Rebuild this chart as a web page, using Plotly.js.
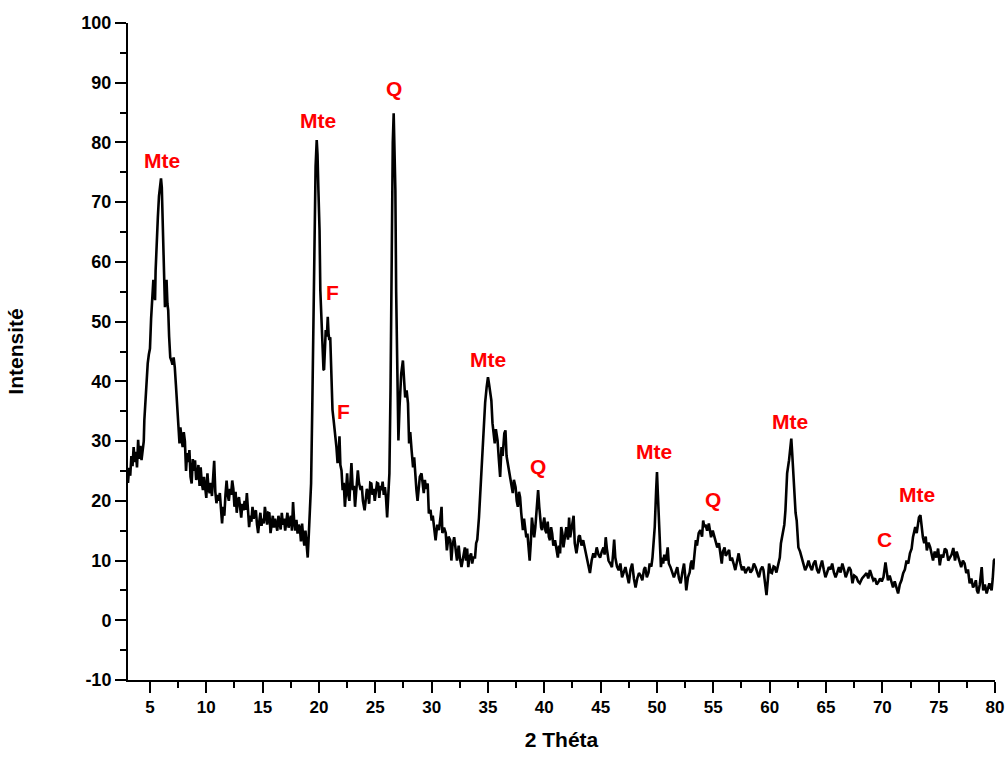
<!DOCTYPE html>
<html>
<head>
<meta charset="utf-8">
<script src="https://cdn.plot.ly/plotly-3.0.1.min.js"></script>
<style>html,body{margin:0;padding:0;background:#fff;}#chart{width:1006px;height:758px;}</style>
</head>
<body>
<div id="chart"></div>
<script>
// 2θ (degrees) and intensity values
const twoTheta = [
3.05,3.15,3.25,3.35,3.45,3.55,3.65,3.75,3.85,3.95,4.05,4.15,4.25,4.35,4.45,4.5,4.6,4.7,4.8,4.9,
5.0,5.1,5.2,5.3,5.4,5.45,5.5,5.6,5.7,5.8,5.9,5.98,6.05,6.12,6.2,6.27,6.33,6.4,6.47,6.55,
6.62,6.7,6.8,6.9,7.0,7.1,7.2,7.3,7.38,7.45,7.55,7.62,7.7,7.8,7.9,8.0,8.1,8.2,8.3,8.4,
8.5,8.6,8.7,8.8,8.9,9.0,9.1,9.2,9.3,9.4,9.5,9.6,9.7,9.8,9.9,10.0,10.1,10.2,10.3,10.4,
10.5,10.6,10.7,10.8,10.9,11.0,11.1,11.2,11.3,11.4,11.5,11.6,11.7,11.8,11.9,12.0,12.1,12.2,12.3,12.4,
12.5,12.6,12.7,12.8,12.9,13.0,13.1,13.2,13.3,13.4,13.5,13.6,13.7,13.8,13.9,14.0,14.1,14.2,14.3,14.4,
14.5,14.6,14.7,14.8,14.9,15.0,15.1,15.2,15.3,15.4,15.5,15.6,15.7,15.8,15.9,16.0,16.1,16.2,16.3,16.4,
16.5,16.6,16.7,16.8,16.9,17.0,17.1,17.2,17.3,17.4,17.5,17.6,17.7,17.8,17.9,18.0,18.1,18.2,18.3,18.4,
18.5,18.6,18.7,18.8,18.9,19.0,19.1,19.2,19.3,19.4,19.5,19.6,19.7,19.8,19.87,19.95,20.05,20.12,20.22,20.3,
20.4,20.45,20.52,20.6,20.7,20.78,20.85,20.92,21.0,21.1,21.2,21.3,21.45,21.55,21.65,21.75,21.82,21.9,22.0,22.1,
22.2,22.3,22.4,22.5,22.6,22.7,22.8,22.88,23.0,23.1,23.2,23.3,23.45,23.55,23.7,23.8,23.9,24.05,24.15,24.25,
24.35,24.45,24.55,24.65,24.75,24.85,24.95,25.05,25.15,25.25,25.35,25.45,25.55,25.65,25.75,25.85,25.95,26.05,26.15,26.25,
26.35,26.45,26.55,26.63,26.7,26.78,26.85,26.92,27.0,27.05,27.15,27.3,27.45,27.55,27.65,27.78,27.9,28.0,28.1,28.22,
28.35,28.45,28.55,28.65,28.75,28.85,28.95,29.1,29.2,29.3,29.4,29.5,29.65,29.75,29.9,30.0,30.1,30.25,30.35,30.5,
30.65,30.8,30.88,30.95,31.1,31.25,31.35,31.5,31.65,31.75,31.85,32.0,32.1,32.25,32.4,32.5,32.65,32.8,32.95,33.05,
33.15,33.25,33.35,33.5,33.6,33.7,33.85,33.95,34.05,34.2,34.3,34.42,34.52,34.65,34.75,34.88,35.0,35.1,35.18,35.3,
35.4,35.5,35.6,35.7,35.85,35.95,36.08,36.2,36.3,36.45,36.55,36.65,36.75,36.9,37.05,37.2,37.3,37.45,37.55,37.65,
37.75,37.85,37.95,38.1,38.2,38.3,38.4,38.5,38.6,38.7,38.8,38.9,39.0,39.1,39.2,39.3,39.38,39.45,39.55,39.62,
39.72,39.8,39.9,40.0,40.1,40.2,40.3,40.4,40.5,40.6,40.7,40.8,40.95,41.05,41.2,41.3,41.4,41.5,41.6,41.7,
41.8,41.95,42.1,42.2,42.3,42.4,42.5,42.6,42.7,42.85,42.95,43.05,43.15,43.3,43.45,43.6,43.75,43.9,44.05,44.2,
44.35,44.5,44.65,44.8,44.95,45.1,45.25,45.35,45.45,45.55,45.7,45.85,46.0,46.1,46.2,46.3,46.45,46.6,46.75,46.9,
47.05,47.2,47.35,47.5,47.65,47.8,47.95,48.1,48.25,48.4,48.55,48.7,48.85,48.95,49.1,49.25,49.35,49.5,49.6,49.8,
49.93,50.0,50.08,50.15,50.25,50.35,50.45,50.55,50.65,50.8,50.95,51.05,51.2,51.35,51.5,51.65,51.8,51.95,52.1,52.25,
52.4,52.5,52.6,52.75,52.9,53.0,53.1,53.2,53.3,53.45,53.55,53.7,53.85,54.0,54.1,54.2,54.3,54.45,54.6,54.7,
54.8,54.95,55.1,55.2,55.35,55.5,55.6,55.75,55.85,56.0,56.1,56.25,56.4,56.5,56.65,56.8,56.95,57.1,57.25,57.4,
57.55,57.7,57.85,58.0,58.15,58.3,58.45,58.6,58.75,58.9,59.05,59.2,59.35,59.45,59.6,59.72,59.85,59.95,60.1,60.2,
60.35,60.45,60.6,60.75,60.9,61.0,61.15,61.3,61.4,61.55,61.72,61.82,61.92,62.0,62.07,62.18,62.3,62.4,62.55,62.7,
62.85,63.0,63.15,63.3,63.45,63.6,63.75,63.9,64.05,64.2,64.35,64.5,64.65,64.8,64.95,65.1,65.25,65.4,65.55,65.7,
65.85,66.0,66.15,66.3,66.45,66.6,66.75,66.9,67.05,67.2,67.35,67.5,67.7,67.85,68.0,68.2,68.4,68.6,68.75,68.9,
69.05,69.2,69.35,69.5,69.65,69.8,69.95,70.1,70.28,70.4,70.5,70.65,70.8,70.95,71.1,71.25,71.4,71.55,71.7,71.85,
72.0,72.15,72.3,72.45,72.6,72.72,72.85,72.92,73.05,73.15,73.25,73.38,73.5,73.6,73.72,73.85,73.95,74.1,74.25,74.4,
74.5,74.65,74.8,74.95,75.1,75.25,75.4,75.55,75.7,75.85,76.0,76.15,76.3,76.45,76.6,76.75,76.9,77.0,77.15,77.3,
77.45,77.6,77.75,77.9,78.05,78.2,78.3,78.4,78.5,78.65,78.82,78.95,79.1,79.26,79.4,79.5,79.6,79.7,79.8,79.9,
80.0
];
const intensity = [
23.0,25.5,24.2,27.5,25.8,29.0,26.5,28.2,25.6,30.2,27.0,29.2,26.8,28.6,30.0,33.5,36.5,40.5,43.0,44.5,
45.5,50.5,53.5,57.0,55.0,53.6,58.5,64.0,67.5,71.0,73.0,74.0,72.5,67.0,60.0,57.4,52.4,56.0,57.0,53.0,
51.9,47.5,44.0,43.5,42.8,44.0,42.4,39.5,37.3,35.5,32.5,29.6,32.3,31.0,29.0,31.5,30.0,25.0,28.0,26.5,
28.5,24.0,22.9,27.0,25.0,26.8,23.5,24.0,26.0,22.5,25.6,23.0,21.8,24.0,22.5,20.5,24.6,22.0,21.3,23.0,
20.8,25.0,26.7,21.5,19.6,21.0,20.0,21.3,18.5,16.2,19.0,17.5,21.0,23.4,21.0,20.0,22.0,21.0,23.4,22.0,
19.0,21.5,18.0,20.0,20.6,19.0,17.2,19.5,18.4,20.0,18.5,21.3,19.0,15.6,17.5,16.5,19.0,17.0,18.0,18.4,
16.0,14.6,16.5,18.0,15.8,17.0,16.2,19.0,17.5,16.0,18.0,17.9,14.6,16.5,17.5,15.5,17.0,16.0,15.0,17.5,
16.2,15.2,18.0,16.0,17.0,15.0,16.5,18.0,15.5,16.8,17.5,15.0,19.8,16.5,15.0,16.8,14.5,16.0,15.5,13.2,
16.2,14.0,12.5,15.0,11.7,10.5,14.5,19.0,22.9,35.0,48.0,66.5,76.0,80.4,78.0,72.0,65.3,55.2,49.7,45.2,
42.0,41.9,44.5,48.6,47.5,50.8,48.0,46.9,47.4,42.0,35.2,33.5,31.3,29.0,26.3,28.0,30.8,26.0,25.1,21.8,
23.0,19.0,21.5,24.6,21.0,20.0,23.5,26.3,21.8,22.5,19.0,21.5,25.1,23.0,21.8,22.5,20.0,18.4,20.5,22.0,
21.3,19.5,23.0,22.9,21.0,22.0,20.0,21.5,23.0,22.9,20.5,22.5,21.8,23.2,21.0,22.3,20.5,17.2,21.0,24.6,
38.5,66.5,80.0,84.9,80.0,72.0,55.0,45.0,33.0,30.1,35.7,41.3,43.5,40.0,37.3,38.5,36.3,29.6,31.5,28.5,
25.6,27.3,24.0,21.8,20.0,22.5,24.0,24.6,22.5,21.3,23.5,22.0,22.9,17.9,18.5,16.7,17.5,15.1,13.4,16.0,
15.1,17.5,19.0,14.6,15.5,14.6,11.7,14.0,13.4,10.0,12.5,13.9,12.0,10.0,12.5,10.5,8.9,11.0,12.2,10.0,
12.0,8.9,10.5,11.2,9.5,10.5,10.5,12.9,13.5,17.2,21.0,26.3,30.0,34.0,36.5,39.0,40.7,39.5,38.5,36.8,
33.0,31.0,29.6,32.0,30.1,27.3,24.0,29.0,27.5,31.3,31.8,27.5,26.3,24.6,23.0,21.3,23.5,22.3,20.0,19.0,
21.5,20.6,18.0,15.1,17.0,15.5,13.9,14.5,12.0,10.0,13.0,17.2,15.5,13.9,15.5,18.4,20.0,21.8,19.0,17.2,
15.5,15.1,16.0,17.2,15.0,14.6,16.5,14.0,13.4,15.6,14.5,12.5,13.4,12.0,10.5,12.5,11.2,15.6,14.6,12.2,
14.0,15.6,13.5,17.2,13.9,15.0,16.2,17.5,12.9,11.2,12.5,14.0,14.2,12.5,13.4,12.0,11.2,9.5,7.9,10.0,
11.2,10.5,12.2,11.0,10.5,11.5,12.2,11.0,13.9,12.0,10.0,9.5,8.9,11.0,13.5,10.5,9.0,8.4,9.5,7.2,
8.0,8.9,7.5,6.2,8.5,9.5,7.0,5.5,7.0,7.9,7.5,6.7,8.5,8.9,7.2,8.0,9.5,9.0,10.5,15.6,
22.0,24.8,21.0,17.0,11.0,8.9,10.5,9.5,11.0,10.0,12.2,9.5,8.9,8.0,7.2,8.0,8.9,7.0,6.2,8.0,
9.5,7.5,5.0,7.2,8.0,9.5,10.0,8.5,11.0,13.4,12.5,14.6,15.1,14.0,16.7,15.6,16.0,15.0,16.2,14.5,
13.9,15.0,14.0,13.0,12.2,12.9,11.5,9.5,11.5,12.2,10.8,11.2,11.8,10.0,10.5,9.5,8.4,9.8,11.2,9.5,
8.4,9.0,7.9,8.5,8.9,8.0,8.4,9.5,8.9,8.0,7.2,8.5,9.0,8.4,6.5,4.2,7.0,9.5,8.0,7.9,
9.0,8.9,8.0,9.5,10.5,12.9,14.6,16.0,18.4,24.6,26.8,28.5,30.4,28.0,25.6,21.3,18.0,16.7,12.2,11.5,
10.5,9.5,8.4,9.0,10.0,9.0,8.4,9.5,10.0,8.5,7.9,9.0,10.0,8.5,7.2,8.0,8.9,8.5,9.5,8.0,
7.2,8.0,8.9,8.0,9.5,8.5,7.2,8.0,8.9,8.4,6.2,7.5,7.2,6.5,6.2,7.0,7.5,7.9,7.0,8.4,
7.5,6.7,7.0,6.0,6.4,7.0,6.5,7.2,9.7,7.5,6.7,7.5,6.5,5.5,6.5,5.5,4.5,6.0,6.7,7.9,
8.5,10.0,9.5,11.2,12.0,13.9,15.0,15.6,14.6,16.0,17.2,17.6,15.0,13.9,12.9,14.0,11.7,13.0,12.2,11.0,
10.0,11.5,10.5,12.0,9.2,11.0,10.5,12.0,11.7,10.0,10.5,11.0,12.1,10.0,11.5,10.5,9.5,8.9,10.0,9.5,
7.9,8.5,6.2,7.0,5.5,6.0,6.7,5.0,4.5,6.0,8.9,5.0,6.0,4.5,5.5,6.2,5.5,5.0,7.0,10.0,
10.3
];

// Phase labels
const labelText = ["Mte","Mte","Q","F","F","Mte","Q","Mte","Q","Mte","C","Mte"];
const labelX = [6.07,19.9,26.66,21.24,22.2,35.0,39.44,49.73,54.97,61.8,70.23,73.07];
const labelY = [77.0,83.7,89.1,54.9,35.0,43.7,25.8,28.3,20.3,33.3,13.6,21.1];

// Axis ticks
const xTickVals = [5,10,15,20,25,30,35,40,45,50,55,60,65,70,75,80];
const yTickVals = [-10,0,10,20,30,40,50,60,70,80,90,100];

const FONT = 'Liberation Sans, Arial, Helvetica, sans-serif';

const trace = {
  x: twoTheta, y: intensity, type: 'scatter', mode: 'lines',
  line: {color: '#000000', width: 2.6}, hoverinfo: 'x+y', showlegend: false
};

const annotations = labelText.map((t, i) => ({
  x: labelX[i], y: labelY[i], xref: 'x', yref: 'y', text: t, showarrow: false,
  font: {family: FONT, size: 21, color: '#ff0000', weight: 'bold'},
  xanchor: 'center', yanchor: 'middle'
}));

const layout = {
  width: 1006, height: 758,
  margin: {l: 128, r: 11, t: 23, b: 78},
  paper_bgcolor: '#ffffff', plot_bgcolor: '#ffffff',
  font: {family: FONT, color: '#000000'},
  xaxis: {
    range: [3.05, 80], tickvals: xTickVals, ticktext: xTickVals.map(String),
    showgrid: false, zeroline: false, showline: true, linecolor: '#000', linewidth: 2,
    ticks: 'outside', ticklen: 11, tickwidth: 2, tickcolor: '#000',
    tickfont: {family: FONT, size: 17, color: '#000', weight: 'bold'},
    minor: {dtick: 2.5, tick0: 0, ticks: 'outside', ticklen: 6, tickwidth: 2, tickcolor: '#000', showgrid: false},
    title: {text: '2 Théta', font: {family: FONT, size: 21, color: '#000', weight: 'bold'}, standoff: 16},
    automargin: false
  },
  yaxis: {
    range: [-10, 100], tickvals: yTickVals, ticktext: yTickVals.map(String),
    showgrid: false, zeroline: false, showline: true, linecolor: '#000', linewidth: 2,
    ticks: 'outside', ticklen: 11, tickwidth: 2, tickcolor: '#000',
    tickfont: {family: FONT, size: 18, color: '#000', weight: 'bold'},
    minor: {dtick: 5, tick0: 0, ticks: 'outside', ticklen: 6, tickwidth: 2, tickcolor: '#000', showgrid: false},
    title: {text: 'Intensité', font: {family: FONT, size: 21, color: '#000', weight: 'bold'}, standoff: 52},
    automargin: false
  },
  annotations: annotations
};

Plotly.newPlot('chart', [trace], layout, {displayModeBar: false, staticPlot: true});
</script>
</body>
</html>
